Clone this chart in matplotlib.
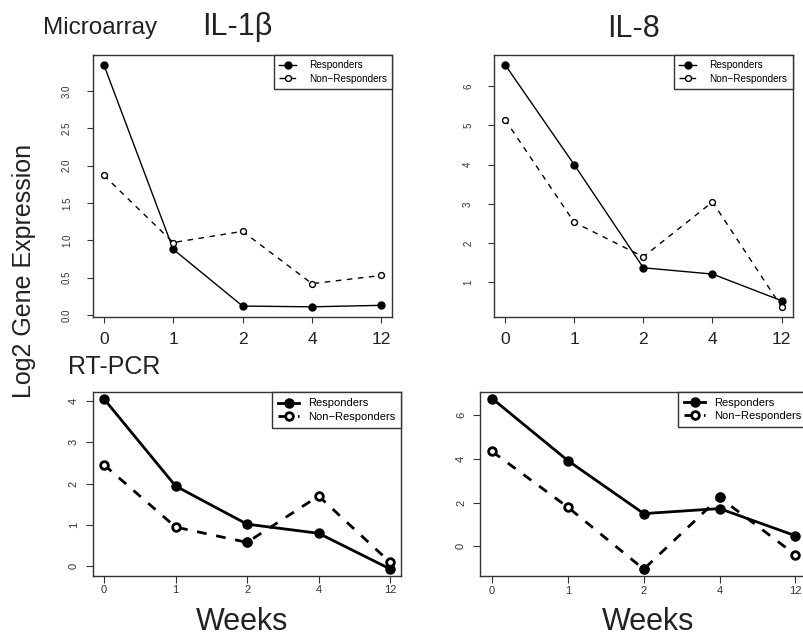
import matplotlib
matplotlib.use("Agg")
import matplotlib.pyplot as plt

# x categories (weeks), equally spaced like the R plot
weeks = ["0", "1", "2", "4", "12"]

# Microarray, log2 expression
il1b_micro_resp = [3.35, 0.88, 0.12, 0.11, 0.13]
il1b_micro_non = [1.87, 0.97, 1.12, 0.42, 0.53]
il8_micro_resp = [6.55, 4.00, 1.37, 1.21, 0.53]
il8_micro_non = [5.15, 2.53, 1.65, 3.05, 0.37]

# RT-PCR, log2 expression
il1b_pcr_resp = [4.04, 1.94, 1.02, 0.80, -0.06]
il1b_pcr_non = [2.45, 0.95, 0.58, 1.70, 0.10]
il8_pcr_resp = [6.76, 3.92, 1.50, 1.73, 0.49]
il8_pcr_non = [4.34, 1.79, -1.04, 2.24, -0.38]

# non-responder points that show up filled in the RT-PCR panels
il1b_pcr_filled = [2]
il8_pcr_filled = [2, 3]

# y tick values
il1b_micro_ticks = [0.0, 0.5, 1.0, 1.5, 2.0, 2.5, 3.0]
il8_micro_ticks = [1, 2, 3, 4, 5, 6]
il1b_pcr_ticks = [0, 1, 2, 3, 4]
il8_pcr_ticks = [0, 2, 4, 6]

W, H = 804, 637
plt.rcParams['font.family'] = ['Liberation Sans', 'DejaVu Sans']


def box(l, t, r, b):
	# pixel box -> figure fraction rect
	return [l / W, 1 - b / H, (r - l) / W, (b - t) / H]


def draw_panel(ax, resp, non, yticks, fmt, lw, ms, dash, legend_kw, filled=None):
	x = list(range(len(weeks)))
	ax.plot(x, resp, "-o", color="black", lw=lw, ms=ms, label="Responders")
	ax.plot(x, non, linestyle=(0, dash), marker="o", color="black", mfc="white",
			mew=lw, lw=lw, ms=ms * 0.85, label="Non\u2212Responders")
	if filled:
		ax.plot([x[i] for i in filled], [non[i] for i in filled], "o", color="black", ms=ms * 0.95)
	ax.margins(0.04)
	ax.set_xticks(x)
	ax.set_xticklabels(weeks)
	ax.set_yticks(yticks)
	ax.set_yticklabels([fmt.format(v) for v in yticks], rotation=90, va="center")
	for s in ax.spines.values():
		s.set_linewidth(1.0)
		s.set_color("#333333")
	ax.tick_params(color="#333333", labelcolor="#333333")
	ax.legend(loc="upper right", borderaxespad=0, fancybox=False, framealpha=1,
			edgecolor="#333333", borderpad=0.55, labelspacing=0.3, **legend_kw)


fig = plt.figure(figsize=(W / 100, H / 100), dpi=100)

# top row: microarray
top_leg = dict(fontsize=7.2, handlelength=1.7, handletextpad=1.3)
ax1 = fig.add_axes(box(92.7, 55, 392.5, 316.5))
draw_panel(ax1, il1b_micro_resp, il1b_micro_non, il1b_micro_ticks, "{:.1f}", 1.0, 5, (4, 4), top_leg)
ax2 = fig.add_axes(box(494, 55, 792.7, 316.7))
draw_panel(ax2, il8_micro_resp, il8_micro_non, il8_micro_ticks, "{:d}", 1.0, 5, (4, 4), top_leg)
for ax in [ax1, ax2]:
	ax.tick_params(axis="x", length=4, pad=7, labelsize=12.5, labelcolor="#222222")
	ax.tick_params(axis="y", length=4, pad=11, labelsize=7)

# bottom row: RT-PCR
bot_leg = dict(fontsize=8, handlelength=1.9, handletextpad=0.8)
ax3 = fig.add_axes(box(92.7, 392.3, 401.5, 575.7))
draw_panel(ax3, il1b_pcr_resp, il1b_pcr_non, il1b_pcr_ticks, "{:d}", 2.0, 6.5, (3.5, 3.5), bot_leg, il1b_pcr_filled)
ax4 = fig.add_axes(box(480, 391.7, 807.5, 576))
draw_panel(ax4, il8_pcr_resp, il8_pcr_non, il8_pcr_ticks, "{:d}", 2.0, 6.5, (3.5, 3.5), bot_leg, il8_pcr_filled)
for ax in [ax3, ax4]:
	ax.tick_params(axis="x", length=5, pad=2, labelsize=8)
	ax.tick_params(axis="y", length=5, pad=5, labelsize=8)

# titles and labels
fig.text(43 / W, 1 - 34 / H, "Microarray", fontsize=17.5, va="baseline", color="#222222")
fig.text(237 / W, 1 - 35.5 / H, "IL-1\u03b2", fontsize=22, ha="center", va="baseline", color="#222222")
fig.text(634 / W, 1 - 37 / H, "IL-8", fontsize=22, ha="center", va="baseline", color="#222222")
fig.text(68 / W, 1 - 374 / H, "RT-PCR", fontsize=18, va="baseline", color="#222222")
fig.text(242 / W, 1 - 630 / H, "Weeks", fontsize=22, ha="center", va="baseline", color="#222222")
fig.text(648 / W, 1 - 630 / H, "Weeks", fontsize=22, ha="center", va="baseline", color="#222222")
fig.text(24 / W, 1 - 271 / H, "Log2 Gene Expression", rotation=90, fontsize=18,
		ha="center", va="center", color="#222222")

fig.savefig("out.png", dpi=100)
